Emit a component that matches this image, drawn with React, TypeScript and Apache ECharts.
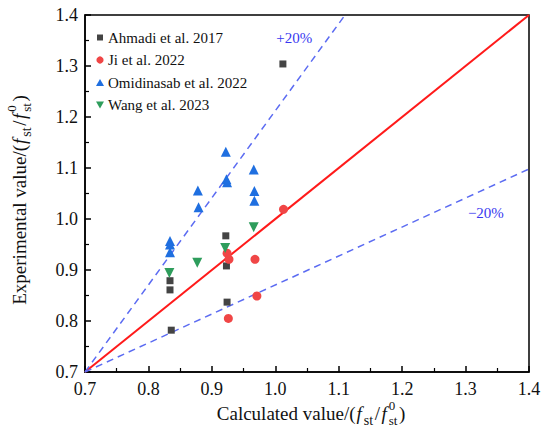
import React, { useEffect, useRef } from "react";
import * as echarts from "echarts";

const FONT = "Liberation Serif";

const ahmadi: number[][] = [
  [0.834, 0.879], [0.834, 0.861], [0.836, 0.782], [0.922, 0.967],
  [0.923, 0.908], [0.924, 0.837], [1.012, 1.304],
];
const ji: number[][] = [
  [0.924, 0.933], [0.927, 0.921], [0.926, 0.805], [0.968, 0.921],
  [0.971, 0.849], [1.013, 1.019],
];
const omidinasab: number[][] = [
  [0.834, 0.957], [0.834, 0.950], [0.834, 0.935], [0.878, 1.056],
  [0.879, 1.023], [0.922, 1.132], [0.923, 1.078], [0.924, 1.072],
  [0.966, 1.097], [0.967, 1.055], [0.967, 1.036],
];
const wang: number[][] = [
  [0.833, 0.894], [0.877, 0.914], [0.921, 0.943], [0.966, 0.984],
];
const lineEqual: number[][] = [[0.7, 0.7], [1.4, 1.4]];
const linePlus: number[][] = [[0.7, 0.7], [1.11, 1.4]];
const lineMinus: number[][] = [[0.7, 0.7], [1.4, 1.098]];
const xTicks = [0.7, 0.8, 0.9, 1.0, 1.1, 1.2, 1.3, 1.4];
const yTicks = [0.7, 0.8, 0.9, 1.0, 1.1, 1.2, 1.3, 1.4];
const bandLabels = [
  { text: "+20%", pos: [1.03, 1.354] },
  { text: "\u221220%", pos: [1.332, 1.011] },
];
const seriesNames = ["Ahmadi et al. 2017", "Ji et al. 2022", "Omidinasab et al. 2022", "Wang et al. 2023"];
const seriesColors = ["#444444", "#f04646", "#1f6fe0", "#2e9d5c"];
const seriesSymbols = ["rect", "circle", "triangle", "down"];

const DOWN_TRI = "path://M0,0L10,0L5,8.66Z";

type Piece = { t: string; size: number; italic?: boolean; dy: number; stack?: boolean; gap?: number };

function buildTitle(pieces: Piece[]) {
  const cv = document.createElement("canvas");
  const ctx = cv.getContext("2d")!;
  const measure = (p: Piece) => {
    ctx.font = `${p.italic ? "italic " : ""}${p.size}px "Liberation Serif"`;
    return ctx.measureText(p.t).width;
  };
  const placed: { p: Piece; x: number }[] = [];
  let x = 0;
  let lastW = 0;
  let lastX = 0;
  pieces.forEach((p) => {
    const w = measure(p) + (p.gap || 0);
    if (p.stack) {
      placed.push({ p, x: lastX });
      const nw = Math.max(lastW, w);
      x = lastX + nw;
      lastW = nw;
    } else {
      placed.push({ p, x });
      lastX = x;
      lastW = w;
      x += w;
    }
  });
  const total = x;
  return placed.map(({ p, x: px }) => ({
    type: "text",
    x: px - total / 2,
    y: p.dy - 0.34 * p.size,
    style: {
      text: p.t,
      fontFamily: FONT,
      fontSize: p.size,
      fontStyle: p.italic ? "italic" : "normal",
      fontWeight: "normal",
      fill: "#111",
      align: "left",
      verticalAlign: "middle",
    },
  }));
}

function titlePieces(main: string): Piece[] {
  return [
    { t: main, size: 19, dy: 0, gap: 1 },
    { t: "f", size: 19, italic: true, dy: 0, gap: 2 },
    { t: "st", size: 14, dy: 5, gap: 1.5 },
    { t: "/", size: 19, dy: 0, gap: 1.5 },
    { t: "f", size: 19, italic: true, dy: 0, gap: 2 },
    { t: "0", size: 13, dy: -10, gap: 1.5 },
    { t: "st", size: 13, dy: 5, stack: true, gap: 1.5 },
    { t: ")", size: 19, dy: 0 },
  ];
}

// Text placed inside a group, the same way as the axis titles (which render in the serif face).
function label(text: string, x: number, y: number, size: number, color: string, align: string, va: string) {
  return {
    type: "group",
    x,
    y,
    children: [
      {
        type: "text",
        x: 0,
        y: 0,
        style: {
          text,
          fontFamily: FONT,
          fontSize: size,
          fontStyle: "normal",
          fontWeight: "normal",
          fill: color,
          align,
          verticalAlign: va,
        },
      },
    ],
  };
}

function legendIcon(kind: string, cx: number, cy: number, color: string) {
  const style = { fill: color };
  if (kind === "rect") return { type: "rect", z: 10, shape: { x: cx - 3, y: cy - 3, width: 6, height: 6 }, style };
  if (kind === "circle") return { type: "circle", z: 10, shape: { cx, cy, r: 3.6 }, style };
  if (kind === "triangle")
    return { type: "polygon", z: 10, shape: { points: [[cx - 4, cy + 3.5], [cx + 4, cy + 3.5], [cx, cy - 3.5]] }, style };
  return { type: "polygon", z: 10, shape: { points: [[cx - 4, cy - 3.5], [cx + 4, cy - 3.5], [cx, cy + 3.5]] }, style };
}

export default function App() {
  const ref = useRef<HTMLDivElement>(null);
  useEffect(() => {
    document.body.style.margin = "0";
    if (!ref.current) return;
    const chart = echarts.init(ref.current, null, { renderer: "svg" });
    const axisCommon = {
      type: "value",
      min: 0.7,
      max: 1.4,
      interval: 0.1,
      axisLine: { show: true, onZero: false, lineStyle: { color: "#000", width: 1.5 } },
      axisTick: { show: true, inside: true, length: 6, lineStyle: { color: "#000", width: 1.5 } },
      minorTick: { show: true, splitNumber: 2, length: 4, lineStyle: { color: "#000", width: 1.2 } },
      splitLine: { show: false },
      axisLabel: { show: false },
    };
    const scatter = (i: number, data: number[][], symbol: string, size: number) => ({
      name: seriesNames[i],
      type: "scatter",
      data,
      symbol,
      symbolSize: size,
      itemStyle: { color: seriesColors[i], opacity: 1 },
      z: 5,
    });
    const line = (data: number[][], color: string, width: number, type: any) => ({
      type: "line",
      data,
      symbol: "none",
      silent: true,
      lineStyle: { color, width, type },
      z: 2,
    });
    chart.setOption({
      animation: false,
      grid: { left: 85, right: 21, top: 15, bottom: 60, show: true, borderColor: "#000", borderWidth: 1.5 },
      xAxis: axisCommon,
      yAxis: axisCommon,
      series: [
        line(lineEqual, "#ff1a1a", 2, "solid"),
        line(linePlus, "#5c6cf2", 1.5, [7, 5]),
        line(lineMinus, "#5c6cf2", 1.5, [7, 5]),
        scatter(0, ahmadi, "rect", 7),
        scatter(1, ji, "circle", 9),
        scatter(2, omidinasab, "triangle", 10),
        scatter(3, wang, DOWN_TRI, 10),
      ],
    });

    const toPx = (p: number[]) => chart.convertToPixel({ gridIndex: 0 }, p) as number[];
    const graphics: any[] = [];
    xTicks.forEach((v) => {
      const [px, py] = toPx([v, 0.7]);
      graphics.push(label(v.toFixed(1), px, py + 8, 18, "#111", "center", "top"));
    });
    yTicks.forEach((v) => {
      const [px, py] = toPx([0.7, v]);
      graphics.push(label(v.toFixed(1), px - 7, py, 18, "#111", "right", "middle"));
    });
    bandLabels.forEach((b) => {
      const [px, py] = toPx(b.pos);
      graphics.push(label(b.text, px, py, 15, "#3838f0", "center", "middle"));
    });
    seriesNames.forEach((name, i) => {
      const cy = 37.5 + i * 22.5;
      graphics.push(legendIcon(seriesSymbols[i], 100, cy, seriesColors[i]));
      graphics.push(label(name, 108, cy, 15, "#111", "left", "middle"));
    });
    graphics.push({
      type: "group",
      x: 311,
      y: 420,
      children: buildTitle(titlePieces("Calculated value/(")),
    });
    graphics.push({
      type: "group",
      x: 26,
      y: 200,
      rotation: Math.PI / 2,
      children: buildTitle(titlePieces("Experimental value/(")),
    });
    chart.setOption({ graphic: graphics });
    return () => chart.dispose();
  }, []);
  return <div ref={ref} style={{ width: 550, height: 432 }} />;
}
